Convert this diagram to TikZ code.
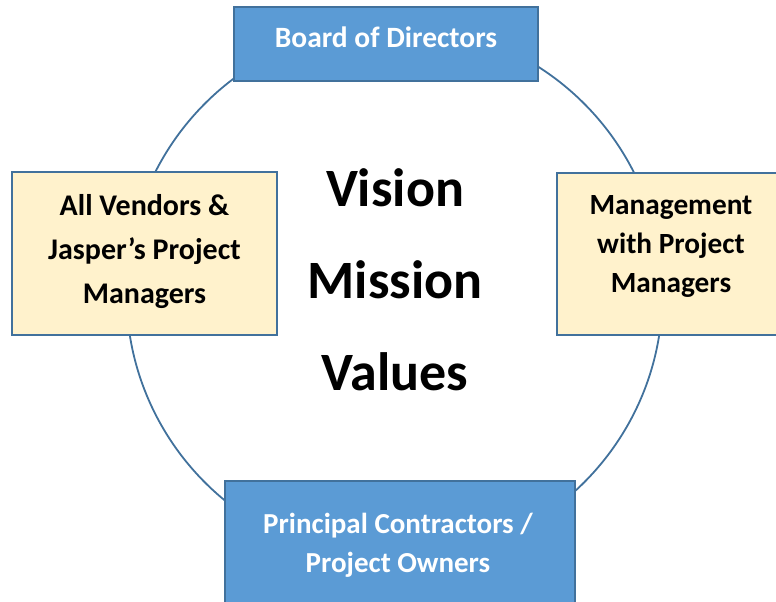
\documentclass[tikz,border=0pt]{standalone}
\usepackage{fontspec}
\setmainfont{Carlito}
\definecolor{boxblue}{HTML}{5B9BD5}
\definecolor{edgeblue}{HTML}{41719C}
\definecolor{paleyellow}{HTML}{FFF2CC}
\begin{document}
\begin{tikzpicture}[x=1pt,y=-1pt,
  bluebox/.style={draw=edgeblue,fill=boxblue,line width=2pt,inner sep=0pt},
  yellowbox/.style={draw=edgeblue,fill=paleyellow,line width=2pt,inner sep=0pt},
  whitetxt/.style={text=white,font=\bfseries\fontsize{29.5}{39}\selectfont,align=center,inner sep=0pt},
  blacktxt/.style={text=black,font=\bfseries\fontsize{29.5}{39}\selectfont,align=center,inner sep=0pt},
  bigtxt/.style={text=black,font=\bfseries\fontsize{54}{60}\selectfont,inner sep=0pt}]
\useasboundingbox (0,0) rectangle (776,602);
\clip (0,0) rectangle (776,602);
\draw[edgeblue,line width=1.8pt] (394.5,293) circle[radius=268];
% boxes
\node[bluebox,minimum width=304pt,minimum height=74pt] (board) at (386,44) {};
\node[whitetxt] (boardt) at (386,37) {Board of Directors};
\node[yellowbox,minimum width=265pt,minimum height=163pt] (vendors) at (144.5,253.5) {};
\node[blacktxt,font=\bfseries\fontsize{30}{44}\selectfont] (vendorst) at (144.5,252) {All Vendors \&\\Jasper’s Project\\Managers};
\node[yellowbox,minimum width=230pt,minimum height=162pt] (mgmt) at (672,254) {};
\node[blacktxt,font=\bfseries\fontsize{29.3}{39}\selectfont] (mgmtt) at (671,246.5) {Management\\with Project\\Managers};
\node[bluebox,minimum width=350pt,minimum height=140pt] (owners) at (400,551) {};
\node[whitetxt,font=\bfseries\fontsize{29}{39}\selectfont] (ownerst) at (398,545.5) {Principal Contractors /\\Project Owners};
% centre
\node[bigtxt] (vision) at (395,188) {Vision};
\node[bigtxt] (mission) at (395,280) {Mission};
\node[bigtxt] (values) at (395,372) {Values};
\end{tikzpicture}
\end{document}
